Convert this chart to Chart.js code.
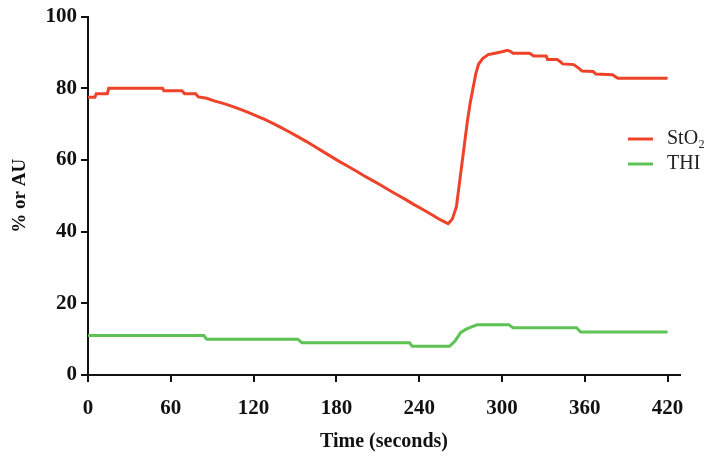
<!DOCTYPE html>
<html>
<head>
<meta charset="utf-8">
<script src="https://cdn.jsdelivr.net/npm/chart.js@4"></script>
<style>
  html, body { margin: 0; padding: 0; background: #fff; }
  #wrap { width: 714px; height: 459px; }
</style>
</head>
<body>
<div id="wrap"><canvas id="myChart"></canvas></div>
<script>
// StO2 (red) – time in seconds, value in %
const stoTimes = [0, 5, 6, 14, 15, 54, 55, 68, 70, 78, 80, 86, 92, 98, 104, 110, 116, 122, 128, 134,
  140, 146, 152, 158, 164, 170, 176, 182, 188, 194, 200, 206, 212, 218, 224, 230, 236, 242, 248, 254,
  258, 261, 264, 267, 269, 271, 273, 275, 277, 279, 281, 283, 286, 290, 295, 300, 304, 306, 308, 320,
  323, 332, 333, 340, 342, 344, 352, 356, 358, 366, 368, 380, 384, 420];
const stoValues = [77.5, 77.5, 78.5, 78.5, 80, 80, 79.3, 79.3, 78.5, 78.5, 77.6, 77.2, 76.4, 75.8, 75, 74.2, 73.3, 72.3, 71.3, 70.2,
  69, 67.8, 66.5, 65.2, 63.8, 62.4, 61, 59.6, 58.3, 57, 55.6, 54.3, 53, 51.6, 50.3, 49, 47.6, 46.3, 45, 43.6,
  42.8, 42.2, 43.5, 47, 53, 59, 65, 71, 76, 80, 84, 86.7, 88.3, 89.4, 89.8, 90.2, 90.6, 90.3, 89.8, 89.8,
  89, 89, 88, 88, 87.5, 86.8, 86.6, 85.5, 84.8, 84.7, 84, 83.8, 82.8, 82.8];

// THI (green)
const thiTimes = [0, 84, 86, 152, 155, 233, 235, 262, 266, 270, 274, 278, 282, 305, 308, 354, 357, 420];
const thiValues = [11, 11, 10, 10, 9, 9, 8, 8, 9.5, 11.8, 12.8, 13.4, 14, 14, 13.2, 13.2, 12, 12];

const timeTicks = [0, 60, 120, 180, 240, 300, 360, 420];
const seriesNames = ['StO\u2082', 'THI'];
const seriesColors = ['#ee4329', '#5ec354'];

const toPoints = (xs, ys) => xs.map((x, i) => ({ x: x, y: ys[i] }));

const tickFont = { family: 'Liberation Serif', weight: 'bold', size: 21 };

// legend sits inside the plot, at the right
const insideLegend = {
  id: 'insideLegend',
  afterDraw(chart) {
    const c = chart.ctx;
    c.save();
    chart.data.datasets.forEach((ds, i) => {
      const y = 139 + i * 25;
      c.strokeStyle = ds.borderColor;
      c.lineWidth = 3;
      c.beginPath();
      c.moveTo(628, y);
      c.lineTo(653, y);
      c.stroke();
      c.fillStyle = '#222';
      c.font = '20px "Liberation Serif"';
      c.textBaseline = 'middle';
      c.fillText(ds.label, 667, y);
    });
    c.restore();
  }
};

const ctx = document.getElementById('myChart');

new Chart(ctx, {
  type: 'line',
  data: {
    datasets: [{
      label: seriesNames[0],
      data: toPoints(stoTimes, stoValues),
      borderColor: seriesColors[0],
      borderWidth: 3,
      pointRadius: 0,
      tension: 0
    }, {
      label: seriesNames[1],
      data: toPoints(thiTimes, thiValues),
      borderColor: seriesColors[1],
      borderWidth: 3,
      pointRadius: 0,
      tension: 0
    }]
  },
  options: {
    responsive: true,
    maintainAspectRatio: false,
    animation: false,
    layout: { padding: { top: 15, right: 34, left: 0, bottom: 0 } },
    plugins: {
      legend: { display: false },
      tooltip: { enabled: false }
    },
    scales: {
      x: {
        type: 'linear',
        min: 0,
        max: 429,
        afterBuildTicks: (s) => { s.ticks = timeTicks.map(v => ({ value: v })); },
        afterFit: (s) => { s.height = 84; },
        border: { display: true, color: '#111', width: 2 },
        grid: { drawOnChartArea: false, drawTicks: true, tickLength: 7, color: '#111', lineWidth: 2 },
        ticks: { font: tickFont, color: '#111', padding: 14, maxRotation: 0 },
        title: {
          display: true,
          text: 'Time (seconds)',
          font: { family: 'Liberation Serif', weight: 'bold', size: 20 },
          color: '#111',
          padding: { top: 0, bottom: 5 }
        }
      },
      y: {
        min: 0,
        max: 100,
        ticks: { stepSize: 20, font: tickFont, color: '#111', padding: 4 },
        afterFit: (s) => { s.width = 88; },
        border: { display: true, color: '#111', width: 2 },
        grid: { drawOnChartArea: false, drawTicks: true, tickLength: 7, color: '#111', lineWidth: 2 },
        title: {
          display: true,
          text: '% or AU',
          font: { family: 'Liberation Serif', weight: 'bold', size: 19 },
          color: '#111',
          padding: { top: 9, bottom: 0 }
        }
      }
    }
  },
  plugins: [insideLegend]
});
</script>
</body>
</html>
